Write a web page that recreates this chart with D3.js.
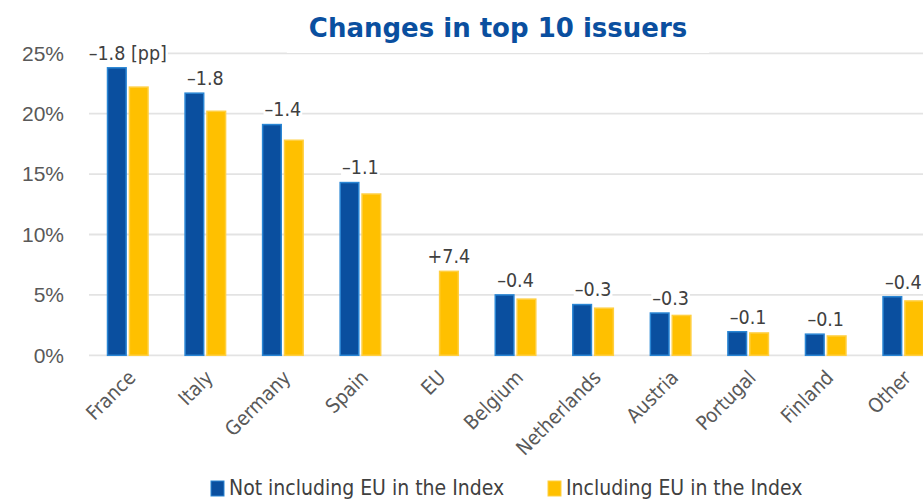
<!DOCTYPE html>
<html>
<head>
<meta charset="utf-8">
<script src="https://cdn.jsdelivr.net/npm/d3@7"></script>
<style>
  body { margin: 0; background: #fff; }
  svg { display: block; font-family: "Liberation Sans Narrow", "DejaVu Sans Condensed", "Liberation Sans", sans-serif; }
</style>
</head>
<body>
<svg width="923" height="501"></svg>
<script>
// chart data
const categories = ["France", "Italy", "Germany", "Spain", "EU", "Belgium", "Netherlands", "Austria", "Portugal", "Finland", "Other"];
const notIncludingEU = [23.8, 21.7, 19.1, 14.3, null, 5.0, 4.2, 3.5, 1.95, 1.75, 4.85];
const includingEU = [22.2, 20.2, 17.8, 13.35, 6.95, 4.65, 3.9, 3.3, 1.85, 1.6, 4.5];
const changeLabels = ["\u20131.8 [pp]", "\u20131.8", "\u20131.4", "\u20131.1", "+7.4", "\u20130.4", "\u20130.3", "\u20130.3", "\u20130.1", "\u20130.1", "\u20130.4"];
const yTicks = [0, 5, 10, 15, 20, 25];
const seriesNames = ["Not including EU in the Index", "Including EU in the Index"];

const blue = "#0a4f9f", blueEdge = "#2a86d4";
const yellow = "#ffc000", yellowEdge = "#ffcf40";

const svg = d3.select("svg");

const left = 89, step = 77.55;
let x = d3.scaleBand()
    .domain(categories)
    .range([left, left + step * categories.length])
    .paddingInner(0.458)
    .paddingOuter(0.229);

let x1 = d3.scaleBand()
    .domain([0, 1])
    .range([0, x.bandwidth()])
    .paddingInner(0.08);

let y = d3.scaleLinear().domain([0, 25]).range([355.3, 53.3]);

// gridlines
svg.append("g")
    .selectAll("line")
    .data(yTicks)
    .join("line")
    .attr("x1", left)
    .attr("x2", 923)
    .attr("y1", d => y(d))
    .attr("y2", d => y(d))
    .attr("stroke", "#e3e3e3")
    .attr("stroke-width", 1.8);

// y axis labels
const yAxis = svg.append("g")
    .attr("transform", "translate(" + (left - 22) + ",0)")
    .call(d3.axisLeft(y).tickValues(yTicks).tickFormat(d => d + "%").tickSize(0));
yAxis.select(".domain").remove();
yAxis.selectAll("text")
    .attr("font-size", 21)
    .attr("fill", "#595959")
    .style("font-family", "inherit");

// bars
const rows = categories.map((c, i) => ({ c: c, vals: [notIncludingEU[i], includingEU[i]], label: changeLabels[i] }));

const groups = svg.append("g")
    .selectAll("g")
    .data(rows)
    .join("g")
    .attr("transform", d => "translate(" + x(d.c) + ",0)");

groups.selectAll("rect")
    .data(d => d.vals.map((v, k) => ({ k: k, v: v })).filter(e => e.v != null))
    .join("rect")
    .attr("x", d => x1(d.k) + 0.75)
    .attr("width", x1.bandwidth() - 1.5)
    .attr("y", d => y(d.v))
    .attr("height", d => y(0) - y(d.v))
    .attr("fill", d => d.k === 0 ? blue : yellow)
    .attr("stroke", d => d.k === 0 ? blueEdge : yellowEdge)
    .attr("stroke-width", 1.5);

// change labels with white boxes behind
const labelLayer = svg.append("g");
rows.forEach(d => {
    const present = d.vals.map((v, k) => ({ k: k, v: v })).filter(e => e.v != null);
    const top = d3.max(present, e => e.v);
    // centre on the group, or on the lone bar if only one exists
    const cx = present.length === 1
        ? x(d.c) + x1(present[0].k) + x1.bandwidth() / 2
        : x(d.c) + x.bandwidth() / 2;
    const cy = y(top) - 15;
    const g = labelLayer.append("g");
    const t = g.append("text")
        .attr("x", cx)
        .attr("y", cy)
        .attr("dy", "0.35em")
        .attr("text-anchor", "middle")
        .attr("font-size", 19.5)
        .attr("fill", "#404040")
        .text(d.label);
    const b = t.node().getBBox();
    g.insert("rect", "text")
        .attr("x", b.x - 1)
        .attr("y", b.y + 2)
        .attr("width", b.width + 2)
        .attr("height", b.height - 2)
        .attr("fill", "#fff");
});

// x labels, rotated
svg.append("g")
    .selectAll("text")
    .data(categories)
    .join("text")
    .attr("transform", d => "translate(" + (x(d) + x.bandwidth() / 2 + 4) + ",374) rotate(-45)")
    .attr("text-anchor", "end")
    .attr("dy", "0.35em")
    .attr("font-size", 20)
    .attr("fill", "#595959")
    .text(d => d);

// title with white box
const titleG = svg.append("g");
const title = titleG.append("text")
    .attr("x", 498)
    .attr("y", 37)
    .attr("text-anchor", "middle")
    .attr("font-size", 26)
    .attr("font-weight", "bold")
    .attr("fill", "#0a4f9f")
    .style("font-family", "'DejaVu Sans', sans-serif")
    .text("Changes in top 10 issuers");
const tb = title.node().getBBox();
titleG.insert("rect", "text")
    .attr("x", tb.x - 22)
    .attr("y", tb.y)
    .attr("width", tb.width + 44)
    .attr("height", tb.height + 10)
    .attr("fill", "#fff");

// legend
const legendX = [211, 548];
const legend = svg.append("g")
    .selectAll("g")
    .data(seriesNames)
    .join("g")
    .attr("transform", (d, i) => "translate(" + legendX[i] + ",0)");
legend.append("rect")
    .attr("x", 0)
    .attr("y", 481)
    .attr("width", 13)
    .attr("height", 15)
    .attr("fill", (d, i) => i === 0 ? blue : yellow)
    .attr("stroke", (d, i) => i === 0 ? blueEdge : yellowEdge)
    .attr("stroke-width", 1);
legend.append("text")
    .attr("x", 18)
    .attr("y", 495)
    .attr("font-size", 21)
    .attr("fill", "#404040")
    .text(d => d);
</script>
</body>
</html>
